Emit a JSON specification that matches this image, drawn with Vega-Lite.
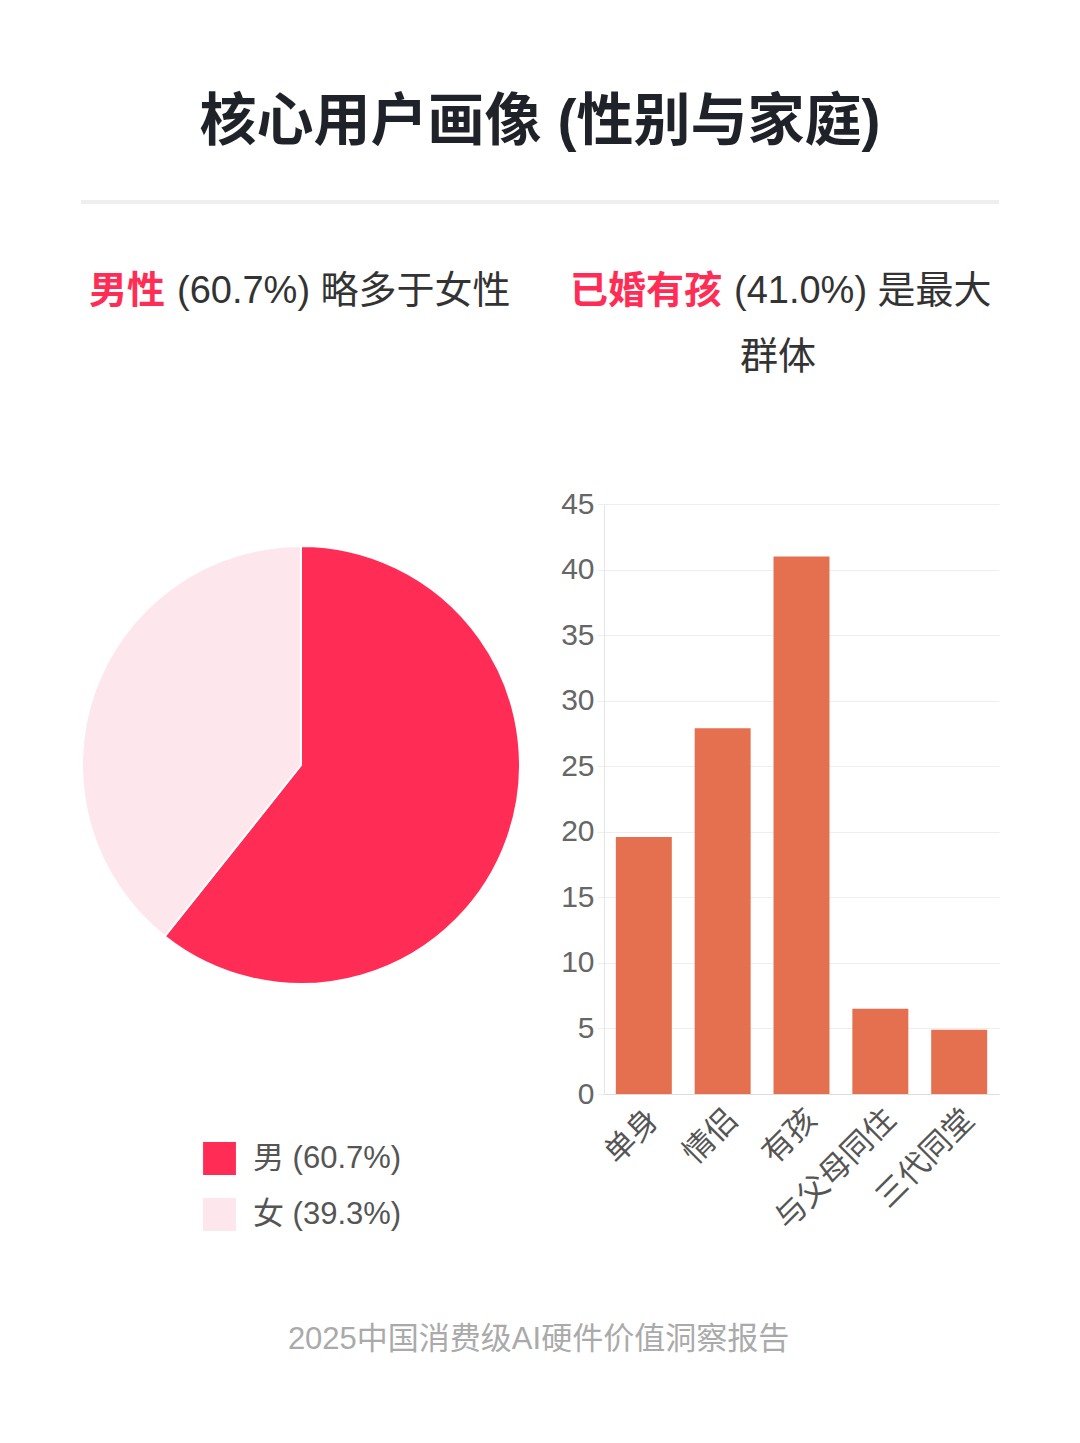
{
  "$schema": "https://vega.github.io/schema/vega-lite/v6.json",
  "background": "white",
  "padding": {"left": 78, "right": 78, "top": 94, "bottom": 40},
  "title": {
    "text": "2025中国消费级AI硬件价值洞察报告",
    "orient": "bottom",
    "anchor": "middle",
    "fontSize": 31,
    "fontWeight": "normal",
    "color": "#aaaaaa",
    "offset": 90
  },
  "config": {
    "view": {"stroke": null},
    "font": "Liberation Sans, Noto Sans CJK SC"
  },
  "spacing": 0,
  "vconcat": [
    {
      "width": 918,
      "height": 4,
      "title": {
        "text": "核心用户画像 (性别与家庭)",
        "fontSize": 57,
        "fontWeight": "bold",
        "color": "#1f2329",
        "offset": 44,
        "anchor": "middle"
      },
      "view": {"fill": "#eeeeee", "stroke": null},
      "data": {"values": [{"t": ""}]},
      "mark": {"type": "text"},
      "encoding": {"text": {"field": "t"}}
    },
    {
      "width": 918,
      "height": 282,
      "layer": [
        {
          "data": {"values": [{"t": "男性"}]},
          "mark": {"type": "text", "x": 84, "y": 85, "align": "right", "baseline": "middle", "fontSize": 38, "fontWeight": "bold", "color": "#ff2d55"},
          "encoding": {"text": {"field": "t"}}
        },
        {
          "data": {"values": [{"t": "(60.7%) 略多于女性"}]},
          "mark": {"type": "text", "x": 96, "y": 85, "align": "left", "baseline": "middle", "fontSize": 38, "color": "#333333"},
          "encoding": {"text": {"field": "t"}}
        },
        {
          "data": {"values": [{"t": "已婚有孩"}]},
          "mark": {"type": "text", "x": 641, "y": 85, "align": "right", "baseline": "middle", "fontSize": 38, "fontWeight": "bold", "color": "#ff2d55"},
          "encoding": {"text": {"field": "t"}}
        },
        {
          "data": {"values": [{"t": "(41.0%) 是最大"}]},
          "mark": {"type": "text", "x": 653, "y": 85, "align": "left", "baseline": "middle", "fontSize": 38, "color": "#333333"},
          "encoding": {"text": {"field": "t"}}
        },
        {
          "data": {"values": [{"t": "群体"}]},
          "mark": {"type": "text", "x": 697, "y": 151, "align": "center", "baseline": "middle", "fontSize": 38, "color": "#333333"},
          "encoding": {"text": {"field": "t"}}
        }
      ]
    },
    {
      "spacing": 36,
      "hconcat": [
        {
          "width": 440,
          "height": 522,
          "data": {
            "values": [
              {"gender": "男 (60.7%)", "pct": 60.7, "order": 1},
              {"gender": "女 (39.3%)", "pct": 39.3, "order": 2}
            ]
          },
          "mark": {"type": "arc", "outerRadius": 219, "stroke": "white", "strokeWidth": 2},
          "encoding": {
            "theta": {"field": "pct", "type": "quantitative", "stack": true},
            "order": {"field": "order", "type": "quantitative"},
            "color": {
              "field": "gender",
              "type": "nominal",
              "scale": {"domain": ["男 (60.7%)", "女 (39.3%)"], "range": ["#ff2d55", "#fde6ec"]},
              "legend": {
                "orient": "none",
                "legendX": 122,
                "legendY": 942,
                "title": null,
                "direction": "vertical",
                "symbolType": "square",
                "symbolSize": 1080,
                "symbolStrokeWidth": 0,
                "labelFontSize": 31,
                "labelColor": "#555555",
                "labelOffset": 17,
                "rowPadding": 23
              }
            }
          }
        },
        {
          "width": 395,
          "height": 590,
          "data": {
            "values": [
              {"cat": "单身", "v": 19.6},
              {"cat": "情侣", "v": 27.9},
              {"cat": "有孩", "v": 41.0},
              {"cat": "与父母同住", "v": 6.5},
              {"cat": "三代同堂", "v": 4.9}
            ]
          },
          "mark": {"type": "bar", "color": "#e5704f"},
          "encoding": {
            "x": {
              "field": "cat",
              "type": "nominal",
              "sort": null,
              "scale": {"paddingInner": 0.29, "paddingOuter": 0.15},
              "axis": {
                "title": null,
                "labelAngle": -45,
                "labelFontSize": 31,
                "labelColor": "#555555",
                "ticks": false,
                "domainColor": "#dddddd",
                "labelPadding": 10
              }
            },
            "y": {
              "field": "v",
              "type": "quantitative",
              "scale": {"domain": [0, 45]},
              "axis": {
                "title": null,
                "values": [0, 5, 10, 15, 20, 25, 30, 35, 40, 45],
                "labelFontSize": 30,
                "labelColor": "#666666",
                "gridColor": "#eeeeee",
                "tickColor": "#eeeeee",
                "tickSize": 7,
                "domainColor": "#e5e5e5",
                "labelPadding": 3
              }
            }
          }
        }
      ]
    }
  ]
}
